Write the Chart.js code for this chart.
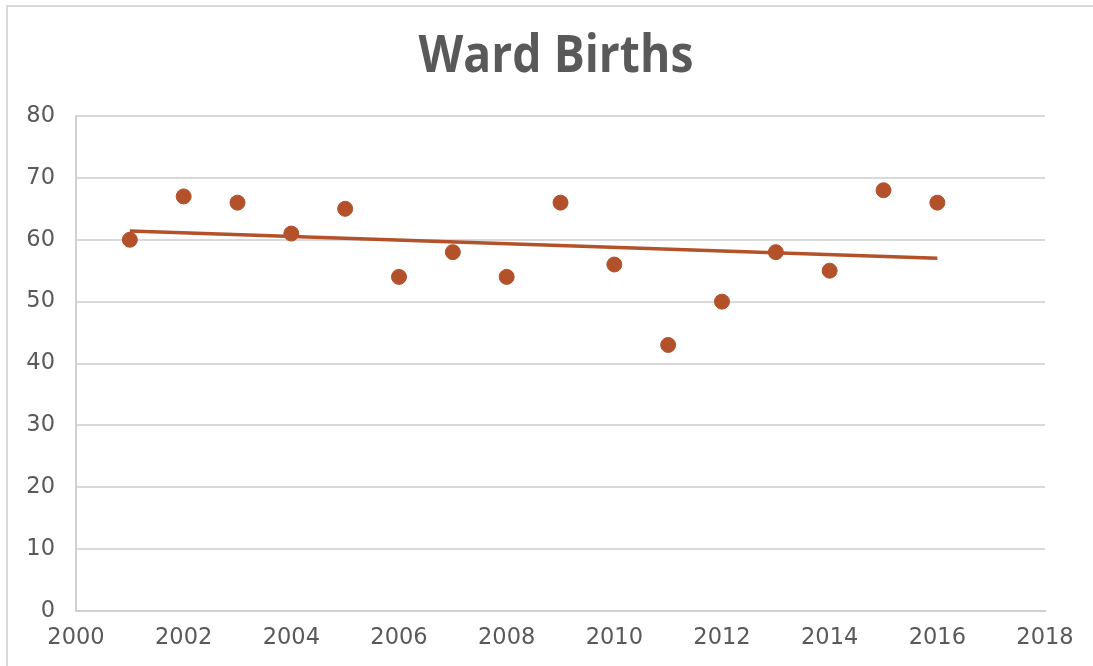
<!DOCTYPE html>
<html>
<head>
<meta charset="utf-8">
<script src="https://cdn.jsdelivr.net/npm/chart.js@4"></script>
<style>
  html, body { margin: 0; padding: 0; background: #fff; overflow: hidden; }
  #wrap { position: relative; width: 1093px; height: 666px; }
  #frame { position: absolute; left: 6px; top: 5px; width: 1100px; height: 700px; border: 2px solid #d9d9d9; box-sizing: border-box; }
  canvas { position: absolute; left: 0; top: 0; }
</style>
</head>
<body>
<div id="wrap">
  <div id="frame"></div>
  <canvas id="c" width="1093" height="666"></canvas>
</div>
<script>
const titleText = "Ward Births";
const years = [2001, 2002, 2003, 2004, 2005, 2006, 2007, 2008, 2009, 2010, 2011, 2012, 2013, 2014, 2015, 2016];
const births = [60, 67, 66, 61, 65, 54, 58, 54, 66, 56, 43, 50, 58, 55, 68, 66];
const trendYears = [2001, 2016];
const trendValues = [61.4, 57.0];
const xTicks = [2000, 2002, 2004, 2006, 2008, 2010, 2012, 2014, 2016, 2018];
const yTicks = [0, 10, 20, 30, 40, 50, 60, 70, 80];

const color = '#b3522a';
const textColor = '#595959';
const tickFont = { family: "'DejaVu Sans', sans-serif", size: 22.5 };

const titlePlugin = {
  id: 'customTitle',
  afterDraw(chart) {
    const ctx = chart.ctx;
    ctx.save();
    ctx.fillStyle = textColor;
    ctx.font = "bold 52px 'Open Sans', 'Liberation Sans', sans-serif";
    ctx.textAlign = 'center';
    ctx.textBaseline = 'middle';
    // squeeze horizontally to mimic the condensed title face
    ctx.translate(556, 57);
    ctx.scale(0.89, 1);
    ctx.fillText(titleText, 0, 0);
    ctx.restore();
  }
};

new Chart(document.getElementById('c'), {
  type: 'scatter',
  data: {
    datasets: [
      {
        label: 'Births',
        data: years.map((y, i) => ({ x: y, y: births[i] })),
        backgroundColor: color,
        borderColor: color,
        pointRadius: 7.5,
        pointHoverRadius: 7.5,
        order: 1
      },
      {
        label: 'Trend',
        type: 'line',
        data: trendYears.map((y, i) => ({ x: y, y: trendValues[i] })),
        borderColor: color,
        borderWidth: 3.5,
        pointRadius: 0,
        fill: false,
        order: 2
      }
    ]
  },
  options: {
    responsive: false,
    animation: false,
    events: [],
    layout: { padding: { top: 116, right: 48, left: 0, bottom: 0 } },
    plugins: {
      legend: { display: false },
      title: { display: false },
      tooltip: { enabled: false }
    },
    scales: {
      x: {
        type: 'linear',
        min: 2000,
        max: 2018,
        afterBuildTicks(axis) { axis.ticks = xTicks.map(v => ({ value: v })); },
        afterFit(axis) { axis.height = 55; },
        grid: { display: false, drawTicks: false },
        border: { display: true, color: '#d0d0d0', width: 2 },
        ticks: {
          color: textColor,
          font: tickFont,
          padding: 14,
          maxRotation: 0,
          autoSkip: false,
          callback: v => String(v)
        }
      },
      y: {
        min: 0,
        max: 80,
        afterBuildTicks(axis) { axis.ticks = yTicks.map(v => ({ value: v })); },
        afterFit(axis) { axis.width = 76; },
        grid: { color: '#d9d9d9', lineWidth: 2, drawTicks: false },
        border: { display: true, color: '#d0d0d0', width: 2 },
        ticks: {
          color: textColor,
          font: tickFont,
          padding: 21,
          callback: v => String(v)
        }
      }
    }
  },
  plugins: [titlePlugin]
});
</script>
</body>
</html>
